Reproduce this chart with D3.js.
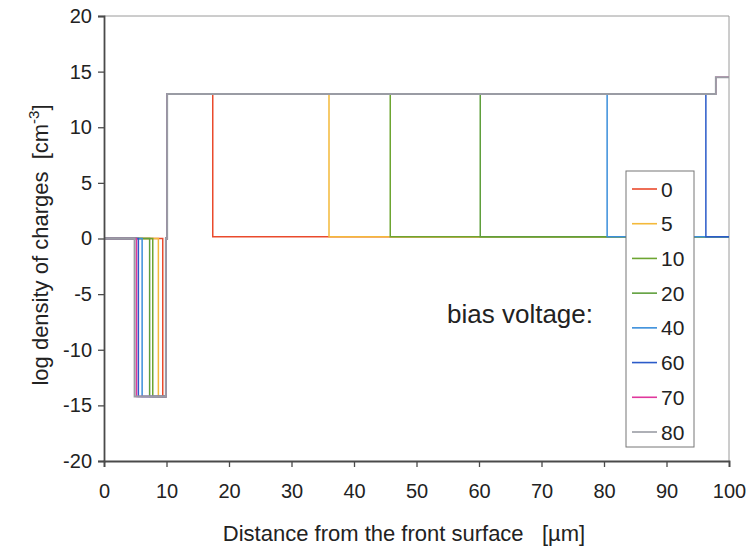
<!DOCTYPE html>
<html><head><meta charset="utf-8">
<script src="https://cdn.jsdelivr.net/npm/d3@7"></script>
<style>
html,body{margin:0;padding:0;background:#fff;}
text{font-family:"Liberation Sans",Arial,sans-serif;fill:#222;white-space:pre;}
</style></head>
<body><svg id="c" width="751" height="549"></svg>
<script>
// ---- data ----
const voltages = ["0","5","10","20","40","60","70","80"];
const colors = ["#ea4a2c","#f4b93a","#6da531","#5f9f3c","#3b8fdb","#2b5bc9","#e0389c","#9a9ca4"];
const dipStart = [9.4, 8.7, 7.8, 7.3, 6.1, 5.5, 5.2, 4.9];       // µm where profile drops to -14.2
const depletionEdge = [17.4, 36.0, 45.8, 60.2, 80.5, 96.3, 97.9, 97.9]; // µm
const dipLevel = -14.2, plateau = 13, baseLevel = 0.15, backLevel = 14.5;
const dipEnd = 9.9, junction = 10.1;
const xTicks = [0,10,20,30,40,50,60,70,80,90,100];
const yTicks = [-20,-15,-10,-5,0,5,10,15,20];

function profile(i){
  const a = dipStart[i], d = depletionEdge[i];
  const pts = [[0,0],[a,0],[a,dipLevel],[dipEnd,dipLevel],[dipEnd,0],[junction,0],[junction,plateau],[d,plateau]];
  if (d < 97.5) { pts.push([d,baseLevel],[100,baseLevel]); }
  else { pts.push([d,backLevel],[100,backLevel]); }
  return pts;
}

// ---- chart ----
const svg = d3.select("#c");
const x = d3.scaleLinear().domain([0,100]).range([104,729]);
const y = d3.scaleLinear().domain([-20,20]).range([461,16]);

// frame (top & right)
svg.append("path").attr("d",`M${x(0)},${y(20)}H${x(100)}V${y(-20)}`)
  .attr("fill","none").attr("stroke","#9a9a9a").attr("stroke-width",1);

const line = d3.line().x(d=>x(d[0])).y(d=>y(d[1]));
voltages.forEach((v,i)=>{
  svg.append("path").datum(profile(i)).attr("d",line)
    .attr("fill","none").attr("stroke",colors[i])
    .attr("stroke-width", i === voltages.length-1 ? 2 : 1.5);
});

// axes
const fmt = d => String(d);
const xAxis = svg.append("g").attr("transform",`translate(0,${y(-20)})`)
  .call(d3.axisBottom(x).tickValues(xTicks).tickFormat(fmt).tickSize(6).tickPadding(17));
const yAxis = svg.append("g").attr("transform",`translate(${x(0)},0)`)
  .call(d3.axisLeft(y).tickValues(yTicks).tickFormat(fmt).tickSize(6).tickPadding(6));
[xAxis,yAxis].forEach(g=>{
  g.select(".domain").attr("stroke","#4a4a4a").attr("stroke-width",1.8);
  g.selectAll(".tick line").attr("stroke","#4a4a4a").attr("stroke-width",1.3);
  g.selectAll(".tick text").attr("font-size",20).attr("fill","#222")
    .style("font-family","'Liberation Sans',Arial,sans-serif");
});

// axis titles
svg.append("text").attr("x",404).attr("y",541).attr("text-anchor","middle")
  .attr("font-size",22).text("Distance from the front surface   [\u00b5m]");
const yt = svg.append("text").attr("transform","translate(48,245) rotate(-90)")
  .attr("text-anchor","middle").attr("font-size",22);
yt.append("tspan").text("log density of charges  [cm");
yt.append("tspan").attr("font-size",15).attr("dy",-9).text("-3");
yt.append("tspan").attr("dy",9).text("]");

// annotation
svg.append("text").attr("x",593).attr("y",323).attr("text-anchor","end")
  .attr("font-size",26).text("bias voltage:");

// legend
const lg = svg.append("g");
lg.append("rect").attr("x",626).attr("y",171).attr("width",68).attr("height",276)
  .attr("fill","#fff").attr("stroke","#777").attr("stroke-width",1);
const ly = d3.scalePoint().domain(voltages).range([189,432]);
voltages.forEach((v,i)=>{
  lg.append("line").attr("x1",632).attr("x2",657).attr("y1",ly(v)).attr("y2",ly(v))
    .attr("stroke",colors[i]).attr("stroke-width",1.6);
  lg.append("text").attr("x",661).attr("y",ly(v)+7.5).attr("font-size",21).text(v);
});
</script></body></html>
